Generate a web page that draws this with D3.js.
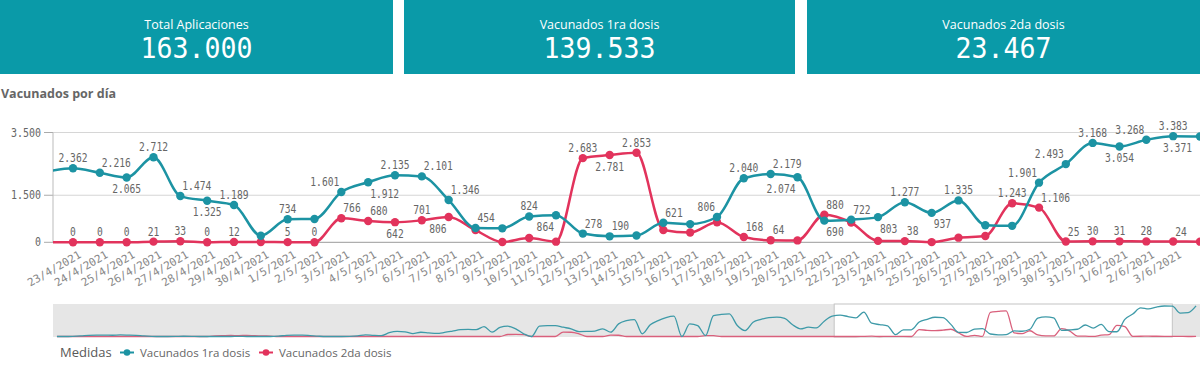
<!DOCTYPE html>
<html><head><meta charset="utf-8">
<script src="https://cdn.jsdelivr.net/npm/d3@7"></script>
<style>html,body{margin:0;padding:0;background:#fff;overflow:hidden}svg{display:block}</style>
</head><body>
<svg id="c" width="1200" height="377"></svg>
<script>
// KPI
const kpiTitles = ["Total Aplicaciones", "Vacunados 1ra dosis", "Vacunados 2da dosis"];
const kpiValues = ["163.000", "139.533", "23.467"];

// Main chart data (22/4/2021 .. 4/6/2021)
const dates = ["22/4/2021","23/4/2021","24/4/2021","25/4/2021","26/4/2021","27/4/2021","28/4/2021","29/4/2021","30/4/2021",
"1/5/2021","2/5/2021","3/5/2021","4/5/2021","5/5/2021","6/5/2021","7/5/2021","8/5/2021","9/5/2021","10/5/2021",
"11/5/2021","12/5/2021","13/5/2021","14/5/2021","15/5/2021","16/5/2021","17/5/2021","18/5/2021","19/5/2021","20/5/2021",
"21/5/2021","22/5/2021","23/5/2021","24/5/2021","25/5/2021","26/5/2021","27/5/2021","28/5/2021","29/5/2021","30/5/2021","31/5/2021",
"1/6/2021","2/6/2021","3/6/2021","4/6/2021"];
const dosis1 = [2250,2362,2216,2065,2712,1474,1325,1189,210,
734,745,1601,1912,2135,2101,1346,454,445,824,
864,278,190,215,621,580,806,2040,2179,2074,
690,722,803,1277,937,1335,545,525,1901,2493,3168,
3054,3268,3383,3371];
const dosis2 = [0,0,0,0,21,33,0,12,8,
5,0,766,680,642,701,806,390,10,135,
20,2683,2781,2853,392,310,640,168,64,60,
880,630,45,38,5,148,200,1243,1106,25,30,
31,28,24,20];
// label placement: a = above, b = below, "" = hidden; suffix r/l = label starts/ends at the point
const dosis1Labels = ["","a","ar","b","a","ar","b","a","",
"a","","al","br","a","ar","ar","ar","","a",
"bl","ar","ar","","ar","","al","a","ar","bl",
"br","ar","br","a","br","a","","","al","al","a",
"b","al","a","bl"];
const dosis2Labels = ["","a","a","a","a","a","a","a","",
"a","a","ar","ar","b","a","bl","","","",
"","a","b","a","","","","ar","ar","",
"ar","","","ar","","","","a","ar","ar","a",
"a","a","ar",""];
const yTicks = [0, 1500, 3500];
const yTickLabels = ["0", "1.500", "3.500"];

// Overview (navigator) data: days before 22/4 and after 4/6
const earlyDosis1 = [0,0,20,60,120,150,160,140,170,150,
120,60,20,0,0,10,30,20,0,0,
0,0,0,10,0,0,0,0,40,130,
160,150,100,40,0,0,0,10,60,180,
130,100,420,560,520,330,470,400,340,450,
600,760,780,760,1100,480,1000,1140,850,300,
0,1140,1200,1215,1030,850,550,560,600,850,
480,1400,1750,1880,300,1300,1770,2100,2250,0,
1400,1215,110,2320,2450,2500,1215,660,1580,1900,
2100,2140,2000,1300,850,1030,950,1700];
const earlyDosis2 = [0,0,0,0,0,0,0,0,0,0,
0,0,0,0,0,0,0,0,0,0,
60,90,110,100,120,90,70,40,0,0,
0,0,0,0,0,0,0,0,0,0,
0,0,0,0,0,0,0,0,0,0,
0,0,0,0,0,0,0,220,230,200,
0,0,0,0,480,470,300,0,0,0,
150,140,0,0,0,0,0,0,0,0,
0,0,100,90,0,0,0,0,0,0,
0,0,0,0,0,0,0,0];
const lateDosis1 = [2600, 2650, 3400];
const lateDosis2 = [10, 0, 20];

const legendLabels = ["Vacunados 1ra dosis", "Vacunados 2da dosis"];

const C1 = "#1c93a3", C2 = "#e2335c", BOX = "#0a9aa8";
const MONO = "'DejaVu Sans Mono', monospace";
const SANS = "'Open Sans', 'Noto Sans', sans-serif";

const svg = d3.select("#c");

// KPI boxes
const boxes = [[0,393],[404,795],[807,1200]];
boxes.forEach((b,i)=>{
  svg.append("rect").attr("x",b[0]).attr("y",0).attr("width",b[1]-b[0]).attr("height",74).attr("fill",BOX);
  const cx = (b[0]+b[1])/2;
  svg.append("text").attr("x",cx).attr("y",29).attr("text-anchor","middle")
    .attr("font-family",SANS).attr("font-size",12.5).attr("fill","#fff").text(kpiTitles[i]);
  svg.append("text").attr("x",cx).attr("y",58).attr("text-anchor","middle")
    .attr("font-family",MONO).attr("font-size",29).attr("fill","#fff")
    .attr("textLength", kpiValues[i].length*16).attr("lengthAdjust","spacingAndGlyphs").text(kpiValues[i]);
});

// Title
svg.append("text").attr("x",1).attr("y",98).attr("font-family",SANS).attr("font-weight","bold")
  .attr("font-size",12.5).attr("fill","#666").text("Vacunados por día");

// Scales
const L = 53, R = 1200;
const idx = dates.map((d,i)=>i-1);
const x = d3.scaleLinear().domain([-0.745, 42]).range([L, R]);
const y = d3.scaleLinear().domain([0, 3500]).range([242.3, 132.5]);

// grid + axis
yTicks.forEach((t,i)=>{
  svg.append("line").attr("x1",L).attr("x2",R).attr("y1",y(t)).attr("y2",y(t))
    .attr("stroke", t===0 ? "#9a9a9a" : "#d6d6d6").attr("stroke-width",1);
  svg.append("line").attr("x1",44).attr("x2",L).attr("y1",y(t)).attr("y2",y(t)).attr("stroke","#aaa");
  svg.append("text").attr("x",41).attr("y",y(t)+4).attr("text-anchor","end")
    .attr("font-family",MONO).attr("font-size",12).attr("fill","#666")
    .attr("textLength", yTickLabels[i].length*6).attr("lengthAdjust","spacingAndGlyphs").text(yTickLabels[i]);
});
svg.append("line").attr("x1",L).attr("x2",L).attr("y1",y(3500)).attr("y2",y(0)).attr("stroke","#bbb");

// clip
svg.append("clipPath").attr("id","plot").append("rect").attr("x",L).attr("y",110).attr("width",R-L).attr("height",140);
const g = svg.append("g").attr("clip-path","url(#plot)");

const line = d3.line().x((d,i)=>x(idx[i])).y(d=>y(d)).curve(d3.curveMonotoneX);
[[dosis2,C2],[dosis1,C1]].forEach(([s,c])=>{
  g.append("path").datum(s).attr("d",line).attr("fill","none").attr("stroke",c).attr("stroke-width",2.5);
  g.selectAll(null).data(s).enter().append("circle")
    .attr("cx",(d,i)=>x(idx[i])).attr("cy",d=>y(d)).attr("r",4.2).attr("fill",c);
});

// value labels
function fmt(v){ return d3.format(",")(v).replace(/,/g,"."); }
[[dosis1,dosis1Labels],[dosis2,dosis2Labels]].forEach(([s,lab])=>{
  s.forEach((v,i)=>{
    const code = lab[i];
    if(!code) return;
    const t = fmt(v), w = t.length*5.8;
    const px = x(idx[i]);
    let cx = px;
    if(code[1]==="r") cx = px + 2 + w/2;
    if(code[1]==="l") cx = px - 2 - w/2;
    cx = Math.min(cx, R - 8 - w/2);
    const ty = code[0]==="a" ? y(v)-6 : y(v)+15.5;
    svg.append("text").attr("x",cx).attr("y",ty).attr("text-anchor","middle")
      .attr("font-family",MONO).attr("font-size",12).attr("fill","#666")
      .attr("textLength",w).attr("lengthAdjust","spacingAndGlyphs").text(t);
  });
});

// x labels
dates.forEach((d,i)=>{
  const px = x(idx[i]);
  if(px < L || px > R - 15) return;
  svg.append("text").attr("transform",`translate(${px+9},257) rotate(-30)`).attr("text-anchor","end")
    .attr("font-family",MONO).attr("font-size",11).attr("fill","#888").text(d);
});

// navigator
const navT = earlyDosis1.concat(dosis1, lateDosis1);
const navR = earlyDosis2.concat(dosis2, lateDosis2);
const navStart = -1 - earlyDosis1.length;
const nx = d3.scaleLinear().domain([navStart-0.5, 45.5]).range([L, R]);
const ny = d3.scaleLinear().domain([0, 3550]).range([336.5, 304.5]);
const NT = 304, NB = 337;
svg.append("rect").attr("x",L).attr("y",NT).attr("width",R-L).attr("height",NB-NT).attr("fill","#e6e6e6");
svg.append("rect").attr("x",nx(-0.745)).attr("y",NT).attr("width",nx(42)-nx(-0.745)).attr("height",NB-NT)
  .attr("fill","#fff").attr("stroke","#c4c4c4").attr("stroke-width",1);
const nline = d3.line().x((d,i)=>nx(navStart+i)).y(d=>ny(d)).curve(d3.curveMonotoneX);
svg.append("path").datum(navR).attr("d",nline).attr("fill","none").attr("stroke","#d9607c").attr("stroke-width",1.3);
svg.append("path").datum(navT).attr("d",nline).attr("fill","none").attr("stroke","#3e9aa8").attr("stroke-width",1.3);

// legend
svg.append("text").attr("x",60).attr("y",357).attr("font-family",SANS).attr("font-size",13).attr("fill","#595959").text("Medidas");
const lg = [[120, C1, 140], [259, C2, 279]];
lg.forEach(([mx,c,tx],i)=>{
  svg.append("line").attr("x1",mx).attr("x2",mx+14).attr("y1",352.5).attr("y2",352.5).attr("stroke",c).attr("stroke-width",2);
  svg.append("circle").attr("cx",mx+7).attr("cy",352.5).attr("r",3.3).attr("fill",c);
  svg.append("text").attr("x",tx).attr("y",357).attr("font-family",SANS).attr("font-size",11.5).attr("fill","#666").text(legendLabels[i]);
});
</script>
</body></html>
